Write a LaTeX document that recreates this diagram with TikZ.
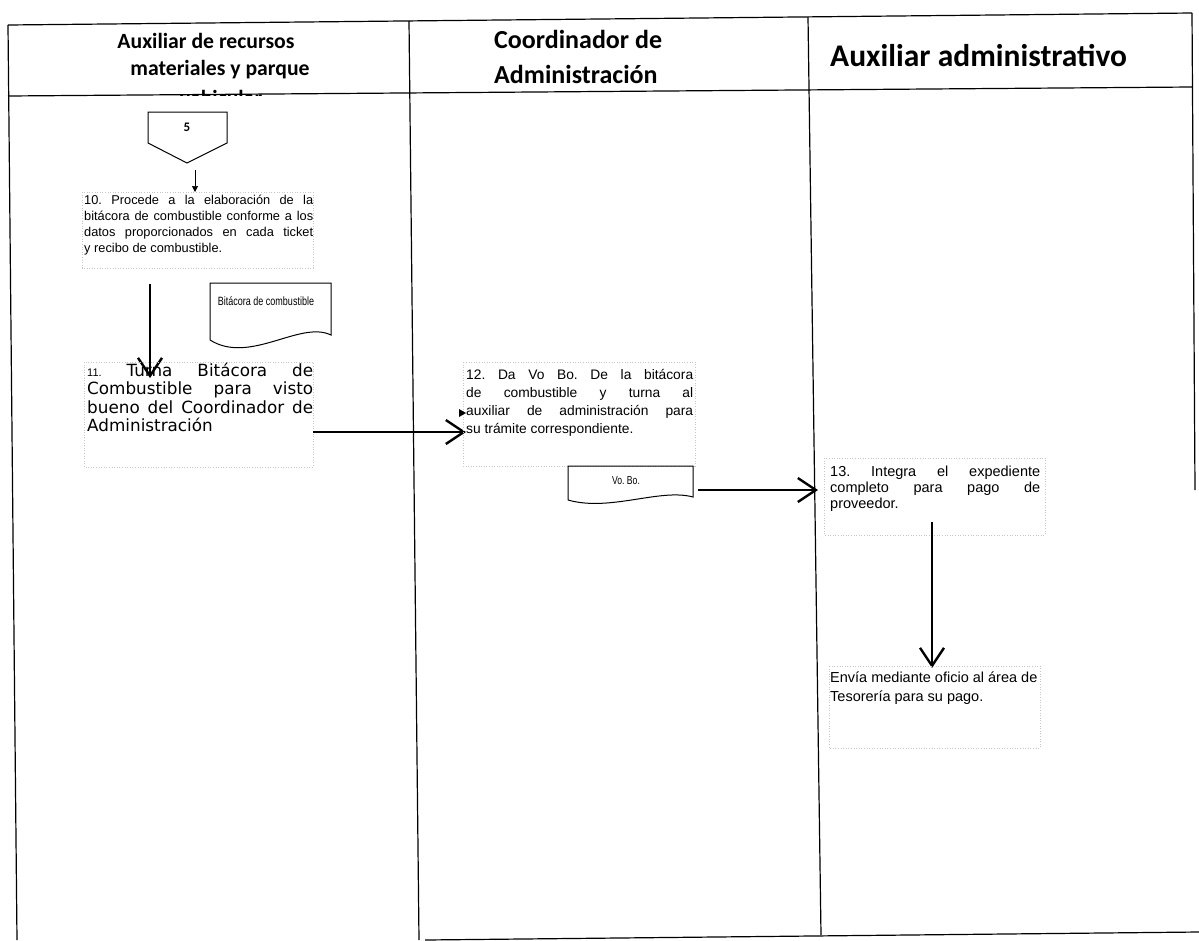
\documentclass[tikz,border=0pt]{standalone}
\usepackage{fontspec}
\setmainfont{Liberation Sans}
\newfontfamily\hdfont{Carlito}
\newfontfamily\vfont{DejaVu Sans}
\newfontfamily\nfont{Liberation Sans}[FakeStretch=0.75]
\usetikzlibrary{arrows.meta}
\newcommand\fs[2]{\fontsize{#1}{#2}\selectfont}
\frenchspacing
\begin{document}
\begin{tikzpicture}[x=1pt,y=-1pt,
  lane/.style={line width=1.2pt},
  hd/.style={font=\hdfont\bfseries, inner sep=0, anchor=base},
  frame/.style={draw=gray!45, line width=0.5pt, dash pattern=on 0.8pt off 1.8pt},
  txt/.style={inner sep=0, anchor=base west},
  bigarrow/.style={line width=2.3pt, -{Straight Barb[length=18pt,width=24pt,line width=2.4pt]}},
  smallarrow/.style={line width=0.7pt, -{Triangle[length=6pt,width=6pt]}},
  doc/.style={line width=1pt}
]
\useasboundingbox (0,0) rectangle (1199,940);
% lanes
\draw[lane] (8,25) -- (1192,13);
\draw[lane] (8,96) -- (1192,87);
\draw[lane] (8,25) -- (17,940);
\draw[lane] (409,21) -- (419,940);
\draw[lane] (808,17) -- (821,935);
\draw[lane] (1192,13) -- (1195,490);
\draw[lane] (425,940) -- (1199,932);
% headers
\node[hd, font=\hdfont\bfseries\fs{21.7}{25}] (h1a) at (206,48) {Auxiliar de recursos};
\node[hd, font=\hdfont\bfseries\fs{21.7}{25}] (h1b) at (220,75) {materiales y parque};
\begin{scope}
\clip (20,80) rectangle (400,95.5);
\node[hd, font=\hdfont\bfseries\fs{21.7}{25}] (h1c) at (221,105) {vehicular};
\end{scope}
\node[hd, anchor=base west, font=\hdfont\bfseries\fs{26}{30}] (h2a) at (494,48) {Coordinador de};
\node[hd, anchor=base west, font=\hdfont\bfseries\fs{26}{30}] (h2b) at (494,83) {Administración};
\node[hd, anchor=base west, font=\hdfont\bfseries\fs{31.5}{34}] (h3) at (830,66) {Auxiliar administrativo};
% connector 5
\node[font=\hdfont\bfseries\fs{13}{15}] (p5) at (187,127) {5};
\draw[line width=1pt] (148,112) -- (227,112) -- (227,143) -- (187,163) -- (148,143) -- cycle;
\coordinate (a5) at (195,170);
\coordinate (a5e) at (195,192);
\draw[smallarrow] (a5) -- (a5e);
% step 10
\draw[frame] (82,192) rectangle (313,268);
\node[txt, font=\fs{12.8}{16}] (t10) at (84,204) {\vtop{\hbox to 229pt{10. Procede a la elaboración de la}\hbox to 229pt{bitácora de combustible conforme a los}\hbox to 229pt{datos proporcionados en cada ticket}\hbox{y recibo de combustible.}}};
\coordinate (s10) at (150,284);
\coordinate (e11) at (150,378);
\draw[bigarrow] (s10) -- (e11);
% document bitacora
\draw[doc] (210,340) -- (210,283) -- (331,283) -- (331,335) .. controls (300,320) and (250,365) .. (210,340);
\node[font=\nfont\fs{12}{13}] (dbit) at (266,301) {Bitácora de combustible};
% step 11
\draw[frame] (84,362) rectangle (313,467);
\node[txt, font=\vfont\fs{16.8}{18.5}] (t11) at (87,376) {\vtop{\hbox to 226pt{{\rmfamily\fs{11}{18.5}11.} Turna Bitácora de}\hbox to 226pt{Combustible para visto}\hbox to 226pt{bueno del Coordinador de}\hbox{Administración}}};
\coordinate (o11) at (313,432);
\coordinate (i12) at (466,432);
\draw[bigarrow] (o11) -- (i12);
% step 12
\draw[frame] (463,362) rectangle (695,466);
\node[txt, font=\fs{13.8}{18}] (t12) at (466,379) {\vtop{\hbox to 227pt{12. Da Vo Bo. De la bitácora}\hbox to 227pt{de combustible y turna al}\hbox to 227pt{auxiliar de administración para}\hbox{su trámite correspondiente.}}};
\fill (466,413) -- (459,409) -- (459,417) -- cycle;
% document vo bo
\draw[doc] (568,500) -- (568,466) -- (693,466) -- (693,497) .. controls (660,488) and (610,512) .. (568,500);
\node[font=\nfont\fs{11.5}{12}] (dvo) at (626,481) {Vo. Bo.};
\coordinate (ovo) at (698,490);
\coordinate (i13) at (818,490);
\draw[bigarrow] (ovo) -- (i13);
% step 13
\draw[frame] (824,458) rectangle (1045,535);
\node[txt, font=\fs{14.5}{16}] (t13) at (830,476) {\vtop{\hbox to 210pt{13. Integra el expediente}\hbox to 210pt{completo para pago de}\hbox{proveedor.}}};
\coordinate (o13) at (932,522);
\coordinate (iE) at (932,668);
\draw[bigarrow] (o13) -- (iE);
% final step
\draw[frame] (829,666) rectangle (1040,748);
\node[txt, font=\fs{14.5}{19}] (tE) at (830,682) {\vtop{\hbox{Envía mediante oficio al área de}\hbox{Tesorería para su pago.}}};
\end{tikzpicture}
\end{document}
